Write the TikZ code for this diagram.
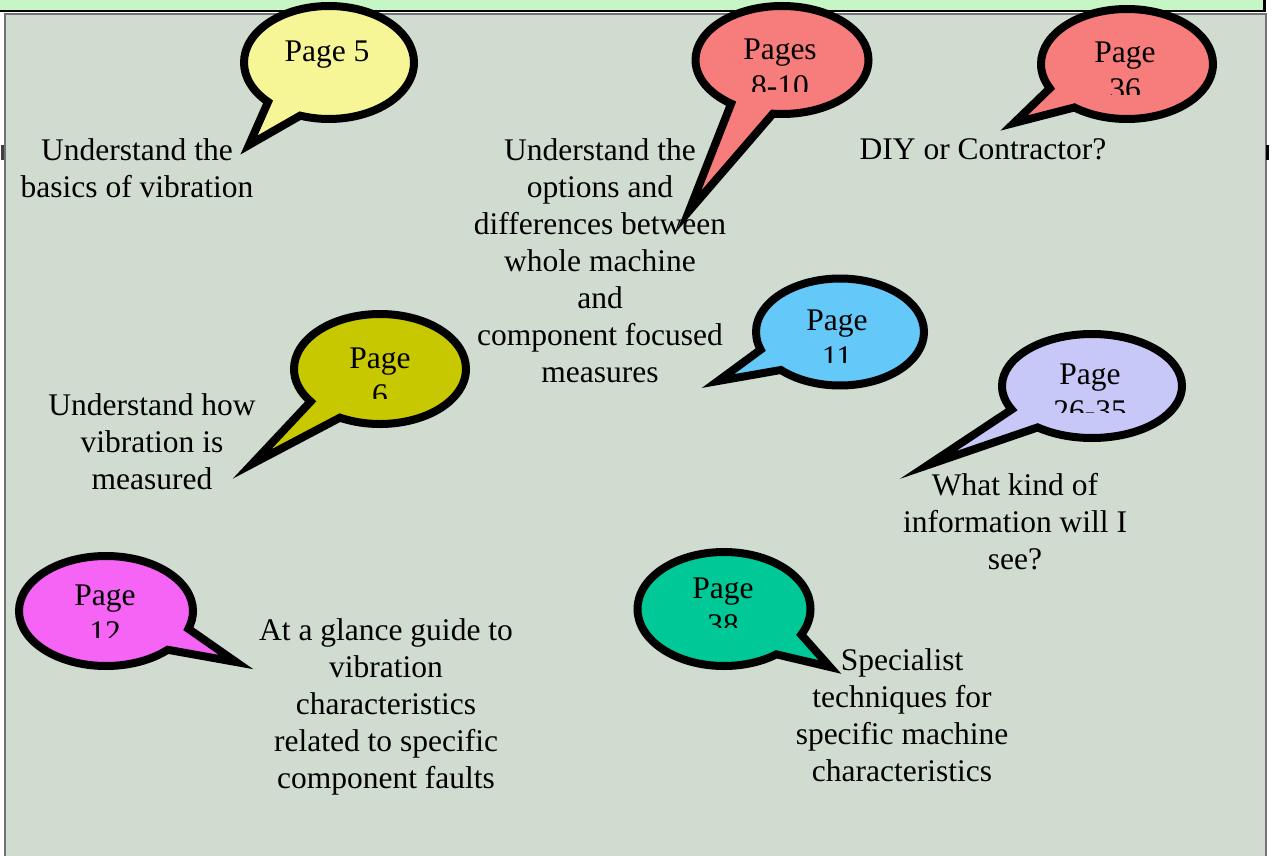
\documentclass[tikz,border=0pt]{standalone}
\usepackage{fontspec}
\setmainfont{Liberation Serif}
\usetikzlibrary{shapes.callouts}
\definecolor{panel}{RGB}{208,220,208}
\definecolor{strip}{RGB}{198,245,198}
\definecolor{cyellow}{RGB}{246,246,150}
\definecolor{csalmon}{RGB}{247,124,124}
\definecolor{colive}{RGB}{200,200,0}
\definecolor{csky}{RGB}{100,200,248}
\definecolor{clavender}{RGB}{200,200,248}
\definecolor{cmagenta}{RGB}{245,100,245}
\definecolor{cteal}{RGB}{0,200,150}
\begin{document}
\begin{tikzpicture}[x=1pt,y=-1pt,
  caption/.style={font=\fontsize{31.5}{37}\selectfont, align=center, inner sep=0pt, anchor=base},
  bubble/.style={ellipse callout, draw=black, line width=8pt, inner sep=0pt,
                 callout pointer arc=26, line join=miter},
  btext/.style={font=\fontsize{31.5}{37}\selectfont, inner sep=0pt, anchor=base}]
\useasboundingbox (0,0) rectangle (1272,856);
\fill[white] (0,0) rectangle (1272,856);
% title strip and main panel
\draw[fill=strip, line width=2.5pt] (-5,-5) rectangle (1264.5,11);
\draw[fill=panel, draw=black!55, line width=2pt] (4.5,14.5) rectangle (1265.5,862);
\draw[black!75, line width=3pt] (2.5,145) -- (2.5,160);
\draw[black, line width=3pt] (1267,145) -- (1267,160);

% tail tips
\coordinate (p5) at (249,145);
\coordinate (p810) at (689,211);
\coordinate (p36) at (1014,123);
\coordinate (p6) at (252,464);
\coordinate (p11) at (718,381);
\coordinate (p2635) at (928,465);
\coordinate (p12) at (236,662);
\coordinate (p38) at (830,667);

% speech bubbles
\node[bubble, fill=cyellow, minimum width=170pt, minimum height=113pt,
      callout absolute pointer={(p5)}] (b5) at (329,62.5) {};
\node[bubble, fill=csalmon, minimum width=173pt, minimum height=108pt,
      callout pointer arc=30, callout absolute pointer={(p810)}] (b810) at (782,60) {};
\node[bubble, fill=csalmon, minimum width=172pt, minimum height=110pt,
      callout absolute pointer={(p36)}] (b36) at (1127,64) {};
\node[bubble, fill=colive, minimum width=172pt, minimum height=110pt,
      callout absolute pointer={(p6)}] (b6) at (380,369) {};
\node[bubble, fill=csky, minimum width=168pt, minimum height=107pt,
      callout absolute pointer={(p11)}] (b11) at (840,332) {};
\node[bubble, fill=clavender, minimum width=180pt, minimum height=104pt,
      callout absolute pointer={(p2635)}] (b2635) at (1092,386) {};
\node[bubble, fill=cmagenta, minimum width=174pt, minimum height=110pt,
      callout absolute pointer={(p12)}] (b12) at (106,611) {};
\node[bubble, fill=cteal, minimum width=173pt, minimum height=114pt,
      callout absolute pointer={(p38)}] (b38) at (724,609) {};

% bubble texts, second lines cut off at the bottom
\node[btext] (n5) at (327,62) {Page 5};
\begin{scope}
  \clip (700,0) rectangle (860,92);
  \node[btext] (n810a) at (780,60) {Pages};
  \node[btext] (n810b) at (780,97) {8-10};
\end{scope}
\begin{scope}
  \clip (1050,0) rectangle (1200,95);
  \node[btext] (n36a) at (1125,63) {Page};
  \node[btext] (n36b) at (1125,100) {36};
\end{scope}
\begin{scope}
  \clip (300,320) rectangle (460,398);
  \node[btext] (n6a) at (380,368) {Page};
  \node[btext] (n6b) at (380,405) {6};
\end{scope}
\begin{scope}
  \clip (760,290) rectangle (920,362);
  \node[btext] (n11a) at (837,330) {Page};
  \node[btext] (n11b) at (837,367) {11};
\end{scope}
\begin{scope}
  \clip (1010,340) rectangle (1175,412);
  \node[btext] (n2635a) at (1090,384) {Page};
  \node[btext] (n2635b) at (1090,421) {26-35};
\end{scope}
\begin{scope}
  \clip (25,560) rectangle (190,637);
  \node[btext] (n12a) at (105,605) {Page};
  \node[btext] (n12b) at (105,642) {12};
\end{scope}
\begin{scope}
  \clip (645,560) rectangle (805,627);
  \node[btext] (n38a) at (723,598) {Page};
  \node[btext] (n38b) at (723,635) {38};
\end{scope}

% captions (anchored at the baseline of their last line)
\node[caption] (t1) at (137,197) {Understand the\\basics of vibration};
\node[caption] (t2) at (600,382) {Understand the\\options and\\differences between\\whole machine\\and\\component focused\\measures};
\node[caption] (t3) at (983,160) {DIY or Contractor?};
\node[caption] (t4) at (152,489) {Understand how\\vibration is\\measured};
\node[caption] (t5) at (1015,569) {What kind of\\information will I\\see?};
\node[caption] (t6) at (386,788) {At a glance guide to\\vibration\\characteristics\\related to specific\\component faults};
\node[caption] (t7) at (902,781) {Specialist\\techniques for\\specific machine\\characteristics};
\end{tikzpicture}
\end{document}
